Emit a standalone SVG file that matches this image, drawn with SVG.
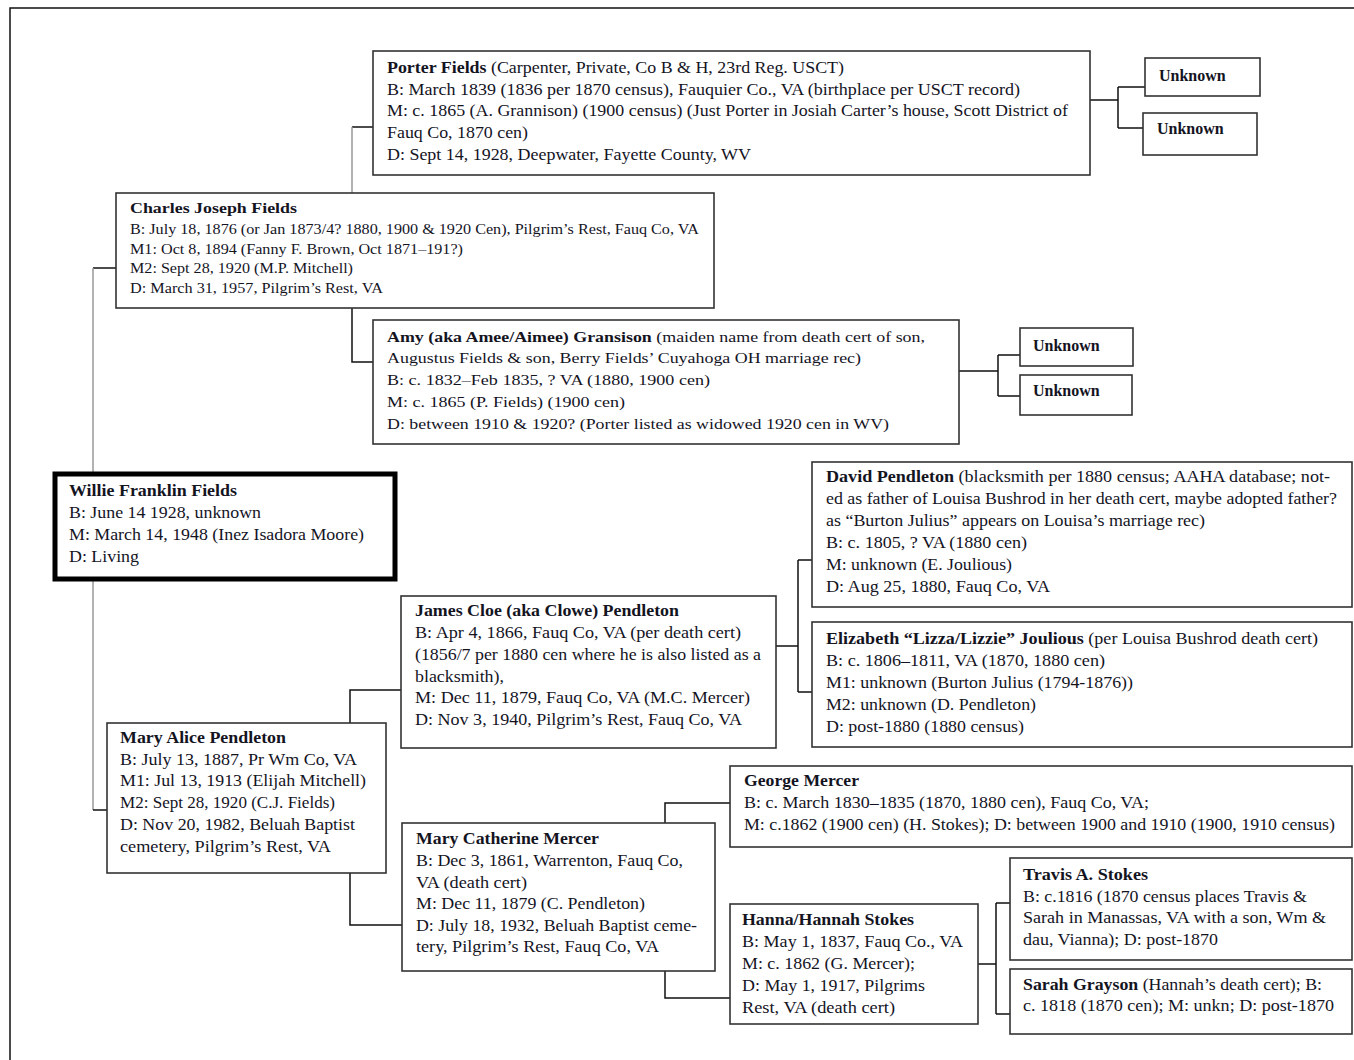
<svg xmlns="http://www.w3.org/2000/svg" width="1354" height="1060" viewBox="0 0 1354 1060">
<style>
.box{fill:#fff;stroke:#333;stroke-width:1.6}
.thick{fill:#fff;stroke:#000;stroke-width:5}
.t{font-family:"Liberation Serif","Times New Roman",serif;font-size:16px;fill:#14141f}
.s{font-size:15px}
.b{font-weight:bold}
.c{fill:none;stroke:#111;stroke-width:1.5}
.g{fill:none;stroke:#999;stroke-width:1.5}
</style>
<rect width="1354" height="1060" fill="#fff"/>
<g id="page">
<path d="M10,1060 V8 H1354" fill="none" stroke="#111" stroke-width="1.5"/>
</g>
<g id="connectors">
<path class="c" d="M373,127 H352"/>
<path class="g" d="M352,127 V193"/>
<path class="c" d="M1090,100 H1118 M1118,87 V128 M1118,87 H1145 M1118,128 H1143"/>
<path class="c" d="M352,308 V362 H373"/>
<path class="c" d="M959,371 H998 M998,355 V396 M998,355 H1020 M998,396 H1020"/>
<path class="c" d="M116,268 H93"/>
<path class="g" d="M93,268 V473"/>
<path class="g" d="M93,580 V810"/>
<path class="c" d="M93,810 H107"/>
<path class="c" d="M401,690 H350 V723"/>
<path class="c" d="M350,873 V925 H402"/>
<path class="c" d="M776,646 H798 M798,560 V692 M798,560 H812 M798,692 H812"/>
<path class="c" d="M665,823 V803 H730"/>
<path class="c" d="M665,971 V998 H730"/>
<path class="c" d="M978,964 H996 M996,903 V1014 M996,903 H1010 M996,1014 H1010"/>
</g>
<g id="porter">
<rect class="box" x="373" y="51" width="717" height="124"/>
<text class="t" x="387" y="73" textLength="457" lengthAdjust="spacingAndGlyphs"><tspan class="b">Porter Fields</tspan> (Carpenter, Private, Co B &amp; H, 23rd Reg. USCT)</text>
<text class="t" x="387" y="95" textLength="633" lengthAdjust="spacingAndGlyphs">B: March 1839 (1836 per 1870 census), Fauquier Co., VA (birthplace per USCT record)</text>
<text class="t" x="387" y="116" textLength="681" lengthAdjust="spacingAndGlyphs">M: c. 1865 (A. Grannison) (1900 census) (Just Porter in Josiah Carter’s house, Scott District of</text>
<text class="t" x="387" y="138" textLength="141" lengthAdjust="spacingAndGlyphs">Fauq Co, 1870 cen)</text>
<text class="t" x="387" y="160" textLength="364" lengthAdjust="spacingAndGlyphs">D: Sept 14, 1928, Deepwater, Fayette County, WV</text>
</g>
<g id="unknown1">
<rect class="box" x="1145" y="58" width="115" height="38"/>
<text class="t b" x="1159" y="81">Unknown</text>
</g>
<g id="unknown2">
<rect class="box" x="1143" y="113" width="114" height="42"/>
<text class="t b" x="1157" y="134">Unknown</text>
</g>
<g id="charles">
<rect class="box" x="116" y="193" width="598" height="115"/>
<text class="t s b" x="130" y="213" textLength="167" lengthAdjust="spacingAndGlyphs">Charles Joseph Fields</text>
<text class="t s" x="130" y="234" textLength="569" lengthAdjust="spacingAndGlyphs">B: July 18, 1876 (or Jan 1873/4? 1880, 1900 &amp; 1920 Cen), Pilgrim’s Rest, Fauq Co, VA</text>
<text class="t s" x="130" y="254" textLength="333" lengthAdjust="spacingAndGlyphs">M1: Oct 8, 1894 (Fanny F. Brown, Oct 1871–191?)</text>
<text class="t s" x="130" y="273" textLength="223" lengthAdjust="spacingAndGlyphs">M2: Sept 28, 1920 (M.P. Mitchell)</text>
<text class="t s" x="130" y="293" textLength="253" lengthAdjust="spacingAndGlyphs">D: March 31, 1957, Pilgrim’s Rest, VA</text>
</g>
<g id="amy">
<rect class="box" x="373" y="320" width="586" height="124"/>
<text class="t s" x="387" y="342" textLength="538" lengthAdjust="spacingAndGlyphs"><tspan class="b">Amy (aka Amee/Aimee) Gransison</tspan> (maiden name from death cert of son,</text>
<text class="t s" x="387" y="363" textLength="474" lengthAdjust="spacingAndGlyphs">Augustus Fields &amp; son, Berry Fields’ Cuyahoga OH marriage rec)</text>
<text class="t s" x="387" y="385" textLength="323" lengthAdjust="spacingAndGlyphs">B: c. 1832–Feb 1835, ? VA (1880, 1900 cen)</text>
<text class="t s" x="387" y="407" textLength="238" lengthAdjust="spacingAndGlyphs">M: c. 1865 (P. Fields) (1900 cen)</text>
<text class="t s" x="387" y="429" textLength="502" lengthAdjust="spacingAndGlyphs">D: between 1910 &amp; 1920? (Porter listed as widowed 1920 cen in WV)</text>
</g>
<g id="unknown3">
<rect class="box" x="1020" y="328" width="113" height="38"/>
<text class="t b" x="1033" y="351">Unknown</text>
</g>
<g id="unknown4">
<rect class="box" x="1020" y="375" width="112" height="40"/>
<text class="t b" x="1033" y="396">Unknown</text>
</g>
<g id="willie">
<rect class="thick" x="55" y="474" width="340" height="105"/>
<text class="t b" x="69" y="496" textLength="168" lengthAdjust="spacingAndGlyphs">Willie Franklin Fields</text>
<text class="t" x="69" y="518" textLength="192" lengthAdjust="spacingAndGlyphs">B: June 14 1928, unknown</text>
<text class="t" x="69" y="540" textLength="295" lengthAdjust="spacingAndGlyphs">M: March 14, 1948 (Inez Isadora Moore)</text>
<text class="t" x="69" y="562" textLength="70" lengthAdjust="spacingAndGlyphs">D: Living</text>
</g>
<g id="david">
<rect class="box" x="812" y="462" width="540" height="145"/>
<text class="t" x="826" y="482" textLength="504" lengthAdjust="spacingAndGlyphs"><tspan class="b">David Pendleton</tspan>  (blacksmith per 1880 census; AAHA database; not-</text>
<text class="t" x="826" y="504" textLength="511" lengthAdjust="spacingAndGlyphs">ed as father of Louisa Bushrod in her death cert, maybe adopted father?</text>
<text class="t" x="826" y="526" textLength="379" lengthAdjust="spacingAndGlyphs">as “Burton Julius” appears on Louisa’s marriage rec)</text>
<text class="t" x="826" y="548" textLength="201" lengthAdjust="spacingAndGlyphs">B: c. 1805, ? VA (1880 cen)</text>
<text class="t" x="826" y="570" textLength="186" lengthAdjust="spacingAndGlyphs">M: unknown (E. Joulious)</text>
<text class="t" x="826" y="592" textLength="224" lengthAdjust="spacingAndGlyphs">D: Aug 25, 1880, Fauq Co, VA</text>
</g>
<g id="elizabeth">
<rect class="box" x="812" y="622" width="540" height="125"/>
<text class="t" x="826" y="644" textLength="492" lengthAdjust="spacingAndGlyphs"><tspan class="b">Elizabeth “Lizza/Lizzie” Joulious</tspan>  (per Louisa Bushrod death cert)</text>
<text class="t" x="826" y="666" textLength="279" lengthAdjust="spacingAndGlyphs">B: c. 1806–1811, VA (1870, 1880 cen)</text>
<text class="t" x="826" y="688" textLength="307" lengthAdjust="spacingAndGlyphs">M1: unknown (Burton Julius (1794-1876))</text>
<text class="t" x="826" y="710" textLength="210" lengthAdjust="spacingAndGlyphs">M2: unknown (D. Pendleton)</text>
<text class="t" x="826" y="732" textLength="198" lengthAdjust="spacingAndGlyphs">D: post-1880 (1880 census)</text>
</g>
<g id="james">
<rect class="box" x="401" y="596" width="375" height="152"/>
<text class="t b" x="415" y="616" textLength="264" lengthAdjust="spacingAndGlyphs">James Cloe (aka Clowe) Pendleton</text>
<text class="t" x="415" y="638" textLength="326" lengthAdjust="spacingAndGlyphs">B: Apr 4, 1866, Fauq Co, VA (per death cert)</text>
<text class="t" x="415" y="660" textLength="346" lengthAdjust="spacingAndGlyphs">(1856/7 per 1880 cen where he is also listed as a</text>
<text class="t" x="415" y="682" textLength="89" lengthAdjust="spacingAndGlyphs">blacksmith),</text>
<text class="t" x="415" y="703" textLength="335" lengthAdjust="spacingAndGlyphs">M: Dec 11, 1879, Fauq Co, VA (M.C. Mercer)</text>
<text class="t" x="415" y="725" textLength="327" lengthAdjust="spacingAndGlyphs">D: Nov 3, 1940, Pilgrim’s Rest, Fauq Co, VA</text>
</g>
<g id="maryalice">
<rect class="box" x="107" y="723" width="279" height="150"/>
<text class="t b" x="120" y="743" textLength="166" lengthAdjust="spacingAndGlyphs">Mary Alice Pendleton</text>
<text class="t" x="120" y="765" textLength="237" lengthAdjust="spacingAndGlyphs">B: July 13, 1887, Pr Wm Co, VA</text>
<text class="t" x="120" y="786" textLength="246" lengthAdjust="spacingAndGlyphs">M1: Jul 13, 1913 (Elijah Mitchell)</text>
<text class="t" x="120" y="808" textLength="215" lengthAdjust="spacingAndGlyphs">M2: Sept 28, 1920 (C.J. Fields)</text>
<text class="t" x="120" y="830" textLength="235" lengthAdjust="spacingAndGlyphs">D: Nov 20, 1982, Beluah Baptist</text>
<text class="t" x="120" y="852" textLength="211" lengthAdjust="spacingAndGlyphs">cemetery, Pilgrim’s Rest, VA</text>
</g>
<g id="george">
<rect class="box" x="730" y="766" width="622" height="81"/>
<text class="t b" x="744" y="786" textLength="115" lengthAdjust="spacingAndGlyphs">George Mercer</text>
<text class="t" x="744" y="808" textLength="405" lengthAdjust="spacingAndGlyphs">B: c. March 1830–1835 (1870, 1880 cen), Fauq Co, VA;</text>
<text class="t" x="744" y="830" textLength="591" lengthAdjust="spacingAndGlyphs">M: c.1862 (1900 cen) (H. Stokes); D: between 1900 and 1910 (1900, 1910 census)</text>
</g>
<g id="marycatherine">
<rect class="box" x="402" y="823" width="313" height="148"/>
<text class="t b" x="416" y="844" textLength="183" lengthAdjust="spacingAndGlyphs">Mary Catherine Mercer</text>
<text class="t" x="416" y="866" textLength="267" lengthAdjust="spacingAndGlyphs">B: Dec 3, 1861, Warrenton, Fauq Co,</text>
<text class="t" x="416" y="888" textLength="111" lengthAdjust="spacingAndGlyphs">VA (death cert)</text>
<text class="t" x="416" y="909" textLength="229" lengthAdjust="spacingAndGlyphs">M: Dec 11, 1879 (C. Pendleton)</text>
<text class="t" x="416" y="931" textLength="281" lengthAdjust="spacingAndGlyphs">D: July 18, 1932, Beluah Baptist ceme-</text>
<text class="t" x="416" y="952" textLength="243" lengthAdjust="spacingAndGlyphs">tery, Pilgrim’s Rest, Fauq Co, VA</text>
</g>
<g id="hanna">
<rect class="box" x="730" y="904" width="248" height="120"/>
<text class="t b" x="742" y="925" textLength="172" lengthAdjust="spacingAndGlyphs">Hanna/Hannah Stokes</text>
<text class="t" x="742" y="947" textLength="221" lengthAdjust="spacingAndGlyphs">B: May 1, 1837, Fauq Co., VA</text>
<text class="t" x="742" y="969" textLength="173" lengthAdjust="spacingAndGlyphs">M: c. 1862 (G. Mercer);</text>
<text class="t" x="742" y="991" textLength="183" lengthAdjust="spacingAndGlyphs">D: May 1, 1917, Pilgrims</text>
<text class="t" x="742" y="1013" textLength="153" lengthAdjust="spacingAndGlyphs">Rest, VA (death cert)</text>
</g>
<g id="travis">
<rect class="box" x="1010" y="858" width="342" height="102"/>
<text class="t b" x="1023" y="880" textLength="125" lengthAdjust="spacingAndGlyphs">Travis A. Stokes</text>
<text class="t" x="1023" y="902" textLength="284" lengthAdjust="spacingAndGlyphs">B: c.1816 (1870 census places Travis &amp;</text>
<text class="t" x="1023" y="923" textLength="303" lengthAdjust="spacingAndGlyphs">Sarah in Manassas, VA with a son, Wm &amp;</text>
<text class="t" x="1023" y="945" textLength="195" lengthAdjust="spacingAndGlyphs">dau, Vianna); D: post-1870</text>
</g>
<g id="sarah">
<rect class="box" x="1010" y="969" width="342" height="65"/>
<text class="t" x="1023" y="990" textLength="299" lengthAdjust="spacingAndGlyphs"><tspan class="b">Sarah Grayson</tspan> (Hannah’s death cert); B:</text>
<text class="t" x="1023" y="1011" textLength="311" lengthAdjust="spacingAndGlyphs">c. 1818 (1870 cen);  M: unkn; D: post-1870</text>
</g>
</svg>
